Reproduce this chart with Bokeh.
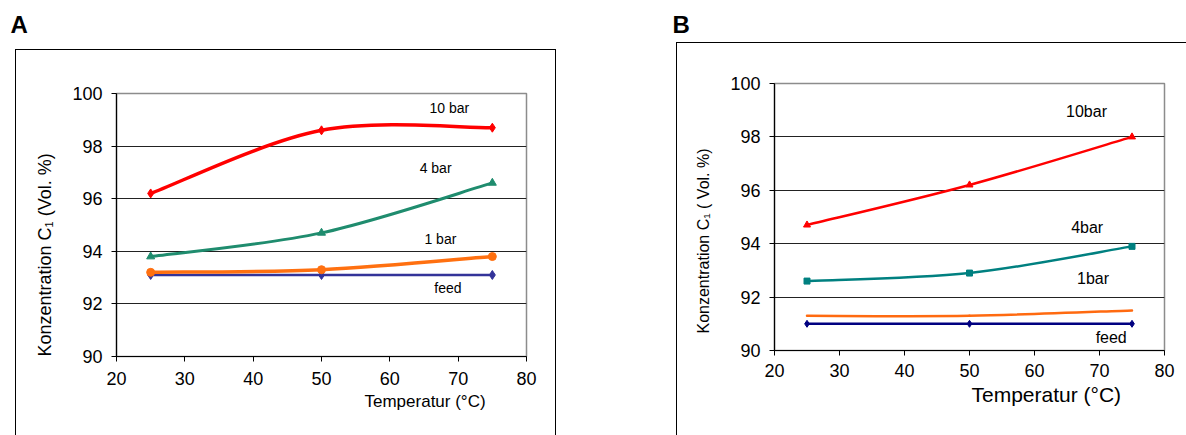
from bokeh.plotting import figure
from bokeh.layouts import row, column
from bokeh.models import Label, FixedTicker, Range1d, ColumnDataSource, Title, Spacer
from bokeh.embed import file_html
from bokeh.resources import INLINE

# ---------------- data ----------------
temperature = [25, 50, 75]

# Panel A
a_feed = [93.1, 93.1, 93.1]
a_1bar = [93.2, 93.3, 93.8]
a_4bar = [93.8, 94.7, 96.6]
a_10bar = [96.2, 98.6, 98.7]

# Panel B
b_feed = [91.0, 91.0, 91.0]
b_1bar = [91.3, 91.3, 91.5]
b_4bar = [92.6, 92.9, 93.9]
b_10bar = [94.7, 96.2, 98.0]

x_ticks = [20, 30, 40, 50, 60, 70, 80]
y_ticks = [90, 92, 94, 96, 98, 100]
grid_ticks = [92, 94, 96, 98]

a_labels = ["10 bar", "4 bar", "1 bar", "feed"]
a_label_x = [68.7, 66.7, 67.4, 68.5]
a_label_y = [99.43, 97.15, 94.45, 92.59]

b_labels = ["10bar", "4bar", "1bar", "feed"]
b_label_x = [68.0, 68.1, 69.0, 71.8]
b_label_y = [98.96, 94.62, 92.69, 90.48]

FONT = "Liberation Sans"


def smooth_source(xs, ys):
    """Bezier segments (Catmull-Rom style smoothing, like Excel's smoothed lines)."""
    n = len(xs)
    d = dict(x0=[], y0=[], x1=[], y1=[], cx0=[], cy0=[], cx1=[], cy1=[])
    for i in range(n - 1):
        xp, yp = (xs[i - 1], ys[i - 1]) if i > 0 else (xs[i], ys[i])
        xn, yn = (xs[i + 2], ys[i + 2]) if i + 2 < n else (xs[i + 1], ys[i + 1])
        d["x0"].append(xs[i]); d["y0"].append(ys[i])
        d["x1"].append(xs[i + 1]); d["y1"].append(ys[i + 1])
        d["cx0"].append(xs[i] + (xs[i + 1] - xp) / 6.0)
        d["cy0"].append(ys[i] + (ys[i + 1] - yp) / 6.0)
        d["cx1"].append(xs[i + 1] - (xn - xs[i]) / 6.0)
        d["cy1"].append(ys[i + 1] - (yn - ys[i]) / 6.0)
    return ColumnDataSource(d)


def make_panel(W, H, bl, br, bt, bb, tick_size, standoff_y, standoff_x, border_css):
    p = figure(width=W, height=H, output_backend="svg", toolbar_location=None,
               x_range=Range1d(20, 80), y_range=Range1d(90, 100),
               min_border_left=bl, min_border_right=br,
               min_border_top=bt, min_border_bottom=bb)
    p.styles = border_css
    p.background_fill_color = "white"
    p.border_fill_color = "white"
    p.outline_line_color = "#8c8c8c"
    p.outline_line_width = 1.5
    p.xgrid.visible = False
    p.ygrid.ticker = FixedTicker(ticks=grid_ticks)
    p.ygrid.grid_line_color = "#222222"
    p.ygrid.grid_line_width = 1
    p.xaxis.ticker = FixedTicker(ticks=x_ticks)
    p.yaxis.ticker = FixedTicker(ticks=y_ticks)
    for ax in (p.xaxis, p.yaxis):
        ax.axis_line_color = "black"
        ax.axis_line_width = 1.2
        ax.major_tick_line_color = "black"
        ax.major_tick_in = 0
        ax.major_tick_out = 5
        ax.minor_tick_line_color = None
        ax.major_label_text_font = FONT
        ax.major_label_text_font_size = tick_size
        ax.major_label_text_color = "black"
    p.yaxis.major_label_standoff = standoff_y
    p.xaxis.major_label_standoff = standoff_x
    return p


def header(W, H, text, x, y_from_top):
    h = figure(width=W, height=H, output_backend="svg", toolbar_location=None,
               x_range=Range1d(0, W), y_range=Range1d(0, H),
               x_axis_type=None, y_axis_type=None,
               min_border=0, min_border_left=0, min_border_right=0,
               min_border_top=0, min_border_bottom=0)
    h.outline_line_color = None
    h.grid.visible = False
    h.background_fill_color = "white"
    h.border_fill_color = "white"
    h.add_layout(Label(x=x, y=H - y_from_top, text=text, text_font=FONT,
                       text_font_size="24px", text_font_style="bold",
                       text_align="left", text_baseline="alphabetic", text_color="black"))
    return h


# ---------------- Panel A ----------------
# box: x 15..556, y 49..(bottom); frame: x 115..525, y 92..355
pA = make_panel(541, 386, 100, 31, 43, 80, "18px", 9, 10,
                {"border-left": "1.5px solid black", "border-top": "1.5px solid black",
                 "border-right": "1.5px solid black", "box-sizing": "border-box"})

pA.line(temperature, a_feed, line_color="#333399", line_width=2.5)
pA.scatter(temperature, a_feed, marker="diamond", size=9, color="#333399")

pA.bezier("x0", "y0", "x1", "y1", "cx0", "cy0", "cx1", "cy1",
          source=smooth_source(temperature, a_1bar),
          line_color="#ff7010", line_width=3.5, line_cap="round")
pA.scatter(temperature, a_1bar, marker="circle", size=8, color="#ff7010")

pA.bezier("x0", "y0", "x1", "y1", "cx0", "cy0", "cx1", "cy1",
          source=smooth_source(temperature, a_4bar),
          line_color="#1f8c6e", line_width=3, line_cap="round")
pA.scatter(temperature, a_4bar, marker="triangle", size=8, color="#1f8c6e")

pA.bezier("x0", "y0", "x1", "y1", "cx0", "cy0", "cx1", "cy1",
          source=smooth_source(temperature, a_10bar),
          line_color="#ff0000", line_width=3.5, line_cap="round")
pA.scatter(temperature, a_10bar, marker="diamond", size=9, color="#ff0000")

for t, x, y in zip(a_labels, a_label_x, a_label_y):
    pA.add_layout(Label(x=x, y=y, text=t, text_font=FONT, text_font_size="14px",
                        text_align="center", text_baseline="middle", text_color="black"))

pA.add_layout(Title(text="Temperatur (°C)", align="left", offset=248, standoff=4,
                    text_font=FONT, text_font_size="17px", text_font_style="normal",
                    text_color="black"), "below")
pA.add_layout(Title(text="Konzentration C₁ (Vol. %)", align="left", offset=0, standoff=30,
                    text_font=FONT, text_font_size="18px", text_font_style="normal",
                    text_line_height=1.0, text_color="black"), "left")

headA = header(593, 49, "A", 10, 24)
panelA = column(headA, row(Spacer(width=15, height=386), pA, Spacer(width=37, height=386)))

# ---------------- Panel B ----------------
# box: x 676..(right edge), y 42..(bottom); frame: x 772..1163, y 82..349
pB = make_panel(510, 393, 96, 23, 40, 86, "18px", 9, 8,
                {"border-left": "1.5px solid black", "border-top": "1.5px solid black",
                 "box-sizing": "border-box"})

pB.line(temperature, b_feed, line_color="#000080", line_width=2.5)
pB.scatter(temperature, b_feed, marker="diamond", size=7, color="#000080")

pB.bezier("x0", "y0", "x1", "y1", "cx0", "cy0", "cx1", "cy1",
          source=smooth_source(temperature, b_1bar),
          line_color="#ff6a10", line_width=2.5, line_cap="round")

pB.bezier("x0", "y0", "x1", "y1", "cx0", "cy0", "cx1", "cy1",
          source=smooth_source(temperature, b_4bar),
          line_color="#008080", line_width=2.5, line_cap="round")
pB.scatter(temperature, b_4bar, marker="square", size=6, color="#008080")

pB.bezier("x0", "y0", "x1", "y1", "cx0", "cy0", "cx1", "cy1",
          source=smooth_source(temperature, b_10bar),
          line_color="#ff0000", line_width=2.5, line_cap="round")
pB.scatter(temperature, b_10bar, marker="triangle", size=7, color="#ff0000")

for t, x, y in zip(b_labels, b_label_x, b_label_y):
    pB.add_layout(Label(x=x, y=y, text=t, text_font=FONT, text_font_size="16px",
                        text_align="center", text_baseline="middle", text_color="black"))

pB.add_layout(Title(text="Temperatur (°C)", align="left", offset=197, standoff=3,
                    text_font=FONT, text_font_size="21px", text_font_style="normal",
                    text_color="black"), "below")
pB.add_layout(Title(text="Konzentration C₁ ( Vol. %)", align="left", offset=17, standoff=31,
                    text_font=FONT, text_font_size="16px", text_font_style="normal",
                    text_line_height=1.0, text_color="black"), "left")

headB = header(593, 42, "B", 79, 24)
panelB = column(headB, row(Spacer(width=83, height=393), pB))

layout = row(panelA, panelB)
open("out.html", "w").write(file_html(layout, INLINE))
